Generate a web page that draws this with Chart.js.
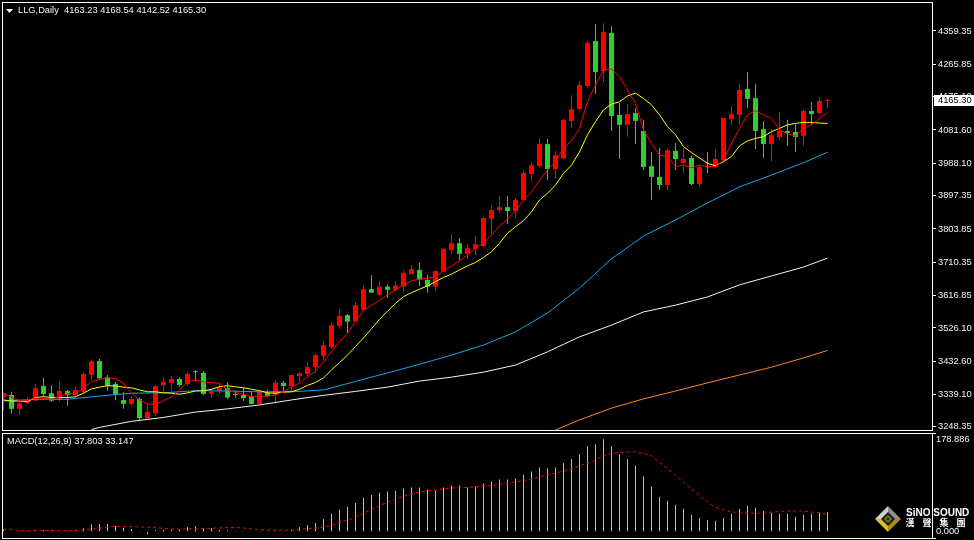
<!DOCTYPE html>
<html>
<head>
<meta charset="utf-8">
<title>LLG,Daily</title>
<script src="https://cdn.jsdelivr.net/npm/chart.js@4/dist/chart.umd.min.js"></script>
<style>
  html, body { margin: 0; padding: 0; background: #000; overflow: hidden; }
  canvas { position: absolute; left: 0; }
  #mainChart { top: 0; }
  #macdChart { top: 432px; }
</style>
</head>
<body>
<canvas id="mainChart" width="974" height="432"></canvas>
<canvas id="macdChart" width="974" height="108"></canvas>
<script>
const opens = [3332,3338,3299,3315,3322,3363,3343,3324,3349,3338,3347,3394,3433,3388,3369,3324,3313,3327,3273,3287,
  3366,3372,3383,3369,3403,3400,3341,3349,3357,3339,3338,3335,3313,3345,3338,3372,3363,3391,3397,3416,
  3447,3472,3532,3562,3544,3576,3635,3619,3642,3633,3642,3677,3689,3661,3642,3684,3745,3764,3734,3748,
  3756,3832,3857,3865,3854,3885,3958,3980,4042,3972,4002,4107,4140,4205,4331,4247,4354,4124,4096,4129,
  4079,3980,3950,3927,4023,3989,4003,3930,3979,3978,3997,4112,4124,4197,4171,4084,4042,4062,4079,4076,
  4065,4135,4129,4163.23];
const highs = [3344,3347,3324,3333,3369,3386,3366,3377,3352,3361,3402,3435,3439,3394,3375,3347,3335,3331,3315,3364,
  3386,3391,3388,3402,3408,3406,3354,3372,3374,3350,3358,3347,3348,3352,3380,3377,3395,3402,3430,3456,
  3489,3541,3579,3565,3599,3646,3674,3658,3649,3658,3687,3703,3709,3675,3687,3749,3790,3778,3761,3784,
  3836,3871,3896,3896,3891,3969,3992,4059,4056,4023,4114,4180,4219,4331,4379,4382,4373,4157,4154,4143,
  4110,4020,4031,4028,4045,4031,4009,3983,4020,4028,4116,4149,4211,4244,4211,4107,4084,4132,4110,4098,
  4140,4160,4174,4168.54];
const lows = [3296,3285,3282,3313,3321,3333,3319,3319,3308,3333,3343,3380,3380,3350,3324,3299,3308,3265,3272,3279,
  3347,3350,3361,3364,3375,3338,3330,3341,3327,3330,3321,3312,3312,3333,3317,3349,3347,3374,3390,3401,
  3436,3467,3523,3511,3543,3575,3624,3618,3611,3628,3625,3675,3644,3625,3630,3683,3734,3717,3720,3731,
  3753,3790,3851,3818,3835,3884,3938,3979,3941,3944,4000,4087,4139,4199,4183,4216,4079,4000,4062,4042,
  3969,3885,3913,3913,3969,3961,3927,3924,3961,3977,3989,4096,4096,4143,4028,4003,3994,4054,4037,4020,
  4037,4096,4126,4142.52];
const closes = [3343,3299,3315,3324,3357,3341,3322,3349,3338,3352,3397,3433,3385,3364,3340,3313,3327,3273,3291,3363,
  3375,3383,3366,3397,3402,3341,3347,3358,3331,3338,3329,3313,3347,3335,3372,3363,3394,3399,3416,3450,
  3478,3534,3560,3544,3590,3635,3625,3642,3633,3645,3681,3691,3661,3642,3686,3748,3764,3734,3750,3761,
  3835,3857,3865,3854,3885,3961,3983,4042,3972,4011,4110,4140,4208,4326,4244,4356,4121,4096,4126,4107,
  3978,3950,3927,4025,4000,4000,3930,3978,3977,4000,4115,4126,4194,4169,4079,4042,4067,4079,4073,4062,
  4135,4126,4163,4165.30];

const redMa = [3343,3331,3322,3324,3329,3329,3326,3333,3341,3343,3357,3375,3382,3386,3384,3371,3343,3324,3312,3312,
  3322,3333,3352,3375,3380,3375,3372,3371,3352,3345,3340,3333,3333,3335,3338,3347,3361,3371,3389,3405,
  3431,3459,3488,3511,3544,3576,3590,3604,3619,3633,3647,3658,3663,3665,3670,3686,3700,3714,3731,3750,
  3764,3787,3812,3832,3855,3885,3908,3941,3969,3993,4030,4052,4086,4161,4208,4250,4253,4231,4194,4156,
  4082,4044,4011,4007,3979,3983,3976,3983,3979,3979,3997,4044,4086,4124,4136,4124,4114,4082,4070,4065,
  4086,4096,4114,4130];
const yellowMa = [3324,3321,3321,3319,3331,3333,3331,3331,3331,3333,3343,3355,3360,3364,3363,3360,3358,3352,3347,3347,
  3344,3343,3340,3344,3349,3350,3354,3361,3364,3361,3358,3354,3350,3344,3343,3346,3347,3354,3365,3373,
  3386,3408,3429,3450,3474,3498,3524,3550,3573,3595,3614,3625,3635,3644,3656,3668,3677,3689,3700,3710,
  3724,3740,3764,3792,3810,3827,3852,3885,3904,3927,3960,3983,4020,4068,4105,4138,4154,4161,4177,4185,
  4170,4152,4124,4091,4068,4035,4018,4003,3988,3981,3993,4007,4037,4051,4058,4063,4077,4086,4096,4100,
  4103,4103,4101,4100];

// slower averages, read every 4th bar
const blueBars = [0,4,8,12,16,20,24,28,32,36,40,44,48,52,56,60,64,68,72,76,80,84,88,92,96,100,103];
const blueMa = [3321,3326,3326,3335,3343,3344,3350,3349,3347,3347,3352,3376,3400,3424,3450,3478,3515,3568,3638,3720,3784,3829,3877,3922,3955,3990,4019];
const whiteBars = [11,12,16,20,24,28,32,36,40,44,48,52,56,60,64,68,72,76,80,84,88,92,96,100,103];
const whiteMa = [3241,3247,3264,3275,3290,3299,3310,3324,3337,3348,3360,3377,3388,3402,3422,3459,3501,3534,3571,3590,3613,3647,3672,3697,3722];
const orangeBars = [69,72,76,80,84,88,92,96,100,103];
const orangeMa = [3240,3268,3301,3327,3349,3372,3394,3416,3442,3463];

const macdBars = [4.6,1.3,1.3,1.3,3.3,2.6,2.6,1.3,1.3,2.6,6.5,14.3,15,15,11,7.8,5.2,1.3,-5.2,2.6,
  3.3,3.9,3.9,8.5,10.4,7.2,7.2,3.3,2.6,1.3,1.3,1.3,1.3,1.3,1.3,1.3,3.9,8.5,13,17,
  24,34.6,42.4,48.2,56,65.9,71.7,75.6,77.6,79.5,83.5,85.4,85.4,81.5,79.5,85.4,89.3,89.3,85.4,87.4,
  93.2,97.1,101,101,103,110.8,116.7,124.5,122.6,124.5,132.4,140.2,150,165.6,169.5,178.886,165.6,150,140.2,128.4,
  106.9,87.4,67.8,60,52.2,44.3,32.6,26.7,22.8,20.9,26.7,34.6,44.3,50.2,46.3,40.4,36.5,34.6,34.6,28.7,
  32.6,34.6,36.5,37.803];
const macdSignal = [4.6,4.6,2,2,2.6,2.6,2,2,2,2.6,3.3,4.6,6.5,9.1,10.4,9.8,9.8,9.1,8.5,7.8,
  6.5,5.2,4.6,5.2,5.2,5.9,6.5,7.2,7.8,7.8,7.2,5.2,3.9,3.3,2.6,2.6,2.6,3.9,5.9,7.2,
  8.5,11.7,18.9,22.2,28,35.5,43,50,57.4,63.2,68.5,73,76.9,78.9,80.8,82.8,84.8,84.8,86,86.7,
  88,89.3,91.9,94.5,96.5,99,101,106.3,110.2,113.4,117.4,121.9,127.1,133,138.2,147.4,151.3,153.2,154.5,154.5,
  151.3,147.4,133.7,121.9,108.9,95.8,82.8,69.8,58,46.9,42.4,38.5,36.5,35.9,35.9,35.9,37.8,39.1,39.8,39.8,
  39.8,37.8,37.2,33.147];

const priceTicks = [4359.35,4265.85,4175.10,4081.60,3988.10,3897.35,3803.85,3710.35,3616.85,3526.10,3432.60,3339.10,3248.35];
const macdTicks = [191.2,178.886,0,-12.3];
const macdLabelled = [178.886,0];

const headerSymbol = "LLG,Daily";
const headerOhlc = "4163.23 4168.54 4142.52 4165.30";
const macdTitle = "MACD(12,26,9) 37.803 33.147";
const logoName = "SiNO SOUND";
const logoChars = ["漢","聲","集","團"];

const UP = "#ff0000";
const DOWN = "#32cd32";
const LABEL = "#f0f4ff";
const FONT = '"Liberation Sans", sans-serif';
const FONT_SIZE = 9.3;

function pairs(bars, values) {
  return values.map((v, i) => ({ x: bars[i], y: v }));
}

function lineSet(data, color, extra) {
  return Object.assign({ type: "line", data, borderColor: color, borderWidth: 1, pointRadius: 0, tension: 0, fill: false }, extra || {});
}

function xScale() {
  // 8px per bar, room for the empty space at the right edge
  return { type: "linear", display: false, offset: false, min: -0.1875, max: 116.0625, grid: { display: false } };
}

function fitRightAxis(scale) {
  // keep the plot area fixed, labels may hang over the edges
  scale.width = 42;
  scale.paddingTop = 0;
  scale.paddingBottom = 0;
}

function frame(chart) {
  const a = chart.chartArea;
  const ctx = chart.ctx;
  ctx.save();
  ctx.strokeStyle = "#fff";
  ctx.lineWidth = 1;
  ctx.strokeRect(a.left + 0.5, a.top + 0.5, a.right - a.left, a.bottom - a.top);
  ctx.restore();
}

const mainDecor = {
  id: "mainDecor",
  afterDraw(chart) {
    const ctx = chart.ctx;
    frame(chart);
    ctx.save();
    ctx.fillStyle = "#fff";
    ctx.beginPath();
    ctx.moveTo(6, 9);
    ctx.lineTo(13, 9);
    ctx.lineTo(9.5, 13);
    ctx.closePath();
    ctx.fill();
    ctx.font = FONT_SIZE + "px " + FONT;
    ctx.fillStyle = LABEL;
    ctx.textBaseline = "middle";
    ctx.fillText(headerSymbol, 18, 10.5);
    ctx.fillText(headerOhlc, 64, 10.5);
    // last price box
    const y = Math.round(chart.scales.y.getPixelForValue(closes[closes.length - 1]));
    ctx.fillStyle = "#fff";
    ctx.fillRect(934, y - 5, 40, 11);
    ctx.fillStyle = "#000";
    ctx.fillText(closes[closes.length - 1].toFixed(2), 938, y + 0.5);
    ctx.restore();
  },
};

const macdDecor = {
  id: "macdDecor",
  afterDraw(chart) {
    const ctx = chart.ctx;
    frame(chart);
    ctx.save();
    ctx.font = FONT_SIZE + "px " + FONT;
    ctx.fillStyle = LABEL;
    ctx.textBaseline = "middle";
    ctx.fillText(macdTitle, 7, 9.5);
    drawLogo(ctx, 888, 87, 13);
    ctx.fillStyle = "#fff";
    ctx.font = "bold 10px " + FONT;
    ctx.fillText(logoName, 906, 81.5);
    ctx.font = 'bold 9px "Noto Sans CJK TC", sans-serif';
    ctx.textAlign = "center";
    logoChars.forEach((c, i) => ctx.fillText(c, 910 + i * 17, 91));
    ctx.restore();
  },
};

function tri(ctx, pts, color) {
  ctx.fillStyle = color;
  ctx.beginPath();
  ctx.moveTo(pts[0][0], pts[0][1]);
  pts.slice(1).forEach((p) => ctx.lineTo(p[0], p[1]));
  ctx.closePath();
  ctx.fill();
}

function drawLogo(ctx, cx, cy, r) {
  const t = [cx, cy - r], b = [cx, cy + r], l = [cx - r, cy], e = [cx + r, cy], c = [cx, cy];
  tri(ctx, [l, t, c], "#d0d0d0");
  tri(ctx, [t, e, c], "#8c8c8c");
  tri(ctx, [e, b, c], "#a58a1c");
  tri(ctx, [l, b, c], "#dcbc2c");
  tri(ctx, [[cx - 7, cy], [cx, cy - 7], [cx + 7, cy], [cx, cy + 7]], "#1a1a10");
  tri(ctx, [[cx - 4, cy], [cx, cy - 4], [cx + 4, cy], [cx, cy + 4]], "#7d8c24");
  tri(ctx, [[cx - 2, cy], [cx, cy - 2], [cx + 2, cy], [cx, cy + 2]], "#20280c");
}

function buildMainChart(canvas) {
  const colors = closes.map((c, i) => (c >= opens[i] ? UP : DOWN));
  const wicks = highs.map((h, i) => ({ x: i, y: [lows[i], h] }));
  const bodies = opens.map((o, i) => ({ x: i, y: [Math.min(o, closes[i]), Math.max(o, closes[i])] }));

  return new Chart(canvas, {
    type: "bar",
    data: {
      datasets: [
        lineSet(redMa.map((v, i) => ({ x: i, y: v })), UP),
        lineSet(yellowMa.map((v, i) => ({ x: i, y: v })), "#ffff00"),
        lineSet(pairs(blueBars, blueMa), "#12a5e6"),
        lineSet(pairs(whiteBars, whiteMa), "#f4f4f4"),
        lineSet(pairs(orangeBars, orangeMa), "#f58a28"),
        { data: bodies, backgroundColor: colors, barThickness: 5, minBarLength: 1, inflateAmount: 0, grouped: false },
        { data: wicks, backgroundColor: colors, barThickness: 1, inflateAmount: 0, grouped: false },
      ],
    },
    options: {
      responsive: false,
      animation: false,
      devicePixelRatio: 1,
      layout: { padding: { left: 2, top: 2, right: 0, bottom: 2 } },
      plugins: { legend: { display: false }, tooltip: { enabled: false } },
      scales: {
        x: xScale(),
        y: {
          position: "right",
          min: 3239.7,
          max: 4440.7,
          afterFit: fitRightAxis,
          afterBuildTicks(scale) { scale.ticks = priceTicks.map((v) => ({ value: v })); },
          border: { display: false },
          grid: { drawOnChartArea: false, tickLength: 4, tickColor: "#fff", tickWidth: 1 },
          ticks: {
            autoSkip: false,
            padding: 2,
            color: LABEL,
            font: { family: FONT, size: FONT_SIZE },
            callback: (v) => v.toFixed(2),
          },
        },
      },
    },
    plugins: [mainDecor],
  });
}

function buildMacdChart(canvas) {
  return new Chart(canvas, {
    type: "bar",
    data: {
      datasets: [
        lineSet(macdSignal.map((v, i) => ({ x: i, y: v })), UP, { borderDash: [3, 3] }),
        { data: macdBars.map((v, i) => ({ x: i, y: v })), backgroundColor: "#c0c0c0", barThickness: 1, inflateAmount: 0, grouped: false },
      ],
    },
    options: {
      responsive: false,
      animation: false,
      devicePixelRatio: 1,
      layout: { padding: { left: 2, top: 1, right: 0, bottom: 2 } },
      plugins: { legend: { display: false }, tooltip: { enabled: false } },
      scales: {
        x: xScale(),
        y: {
          position: "right",
          min: -12.3,
          max: 191.2,
          afterFit: fitRightAxis,
          afterBuildTicks(scale) { scale.ticks = macdTicks.map((v) => ({ value: v })); },
          border: { display: false },
          grid: {
            drawOnChartArea: false,
            tickLength: 4,
            tickWidth: 1,
            tickColor: (c) => (macdLabelled.includes(c.tick.value) ? "transparent" : "#fff"),
          },
          ticks: {
            autoSkip: false,
            padding: 0,
            color: LABEL,
            font: { family: FONT, size: FONT_SIZE },
            callback: (v) => (macdLabelled.includes(v) ? v.toFixed(3) : ""),
          },
        },
      },
    },
    plugins: [macdDecor],
  });
}

buildMainChart(document.getElementById("mainChart"));
buildMacdChart(document.getElementById("macdChart"));
</script>
</body>
</html>
